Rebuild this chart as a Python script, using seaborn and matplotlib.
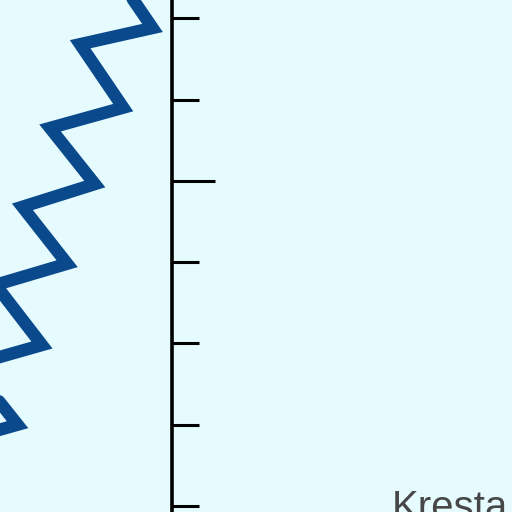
import numpy as np
import pandas as pd
import seaborn as sns
import matplotlib.pyplot as plt

# zigzag series (y = level, x = value), bottom to top
level = [-0.23, 0.00, 0.75, 1.00, 1.73, 1.98, 2.72, 2.98, 3.68, 3.96, 4.65, 4.90, 5.68, 5.88, 6.67]
value = [-3.10, -2.21, -2.79, -1.90, -2.48, -1.60, -2.17, -1.29, -1.84, -0.95, -1.50, -0.60, -1.13, -0.24, -0.78]

major_ticks = [4]
minor_ticks = [0, 1, 2, 3, 5, 6]
label_text = "Kresta"

bg = "#e6fbfe"
line_color = "#0a4a8c"

df = pd.DataFrame({"value": value, "level": level})

sns.set_style("white", {"axes.facecolor": bg, "figure.facecolor": bg})
plt.rcParams['font.family'] = ['Liberation Sans', 'DejaVu Sans']

fig = plt.figure(figsize=(5.12, 5.12), dpi=100)
ax = fig.add_axes([0, 0, 172 / 512, 1])

sns.lineplot(data=df, x="value", y="level", sort=False, estimator=None,
             color=line_color, linewidth=9, ax=ax)
for l in ax.lines:
    l.set_solid_joinstyle("miter")

ax.set_xlim(-2.116, 0)
ax.set_ylim(-0.074, 6.224)
ax.set_xlabel("")
ax.set_ylabel("")
ax.set_xticks([])

for s in ["left", "top", "bottom"]:
    ax.spines[s].set_visible(False)
ax.spines["right"].set_linewidth(2.6)
ax.spines["right"].set_color("black")

ax.yaxis.tick_right()
ax.set_yticks(major_ticks)
ax.set_yticks(minor_ticks, minor=True)
ax.tick_params(axis="y", which="major", direction="out", length=31, width=2.2,
               color="black", labelright=False, labelleft=False)
ax.tick_params(axis="y", which="minor", direction="out", length=19.5, width=2.2,
               color="black", labelright=False, labelleft=False)

fig.text(392 / 512, -7 / 512, label_text, fontsize=29, color="#474747",
         ha="left", va="baseline")

fig.savefig("out.png", dpi=100, facecolor=bg)
